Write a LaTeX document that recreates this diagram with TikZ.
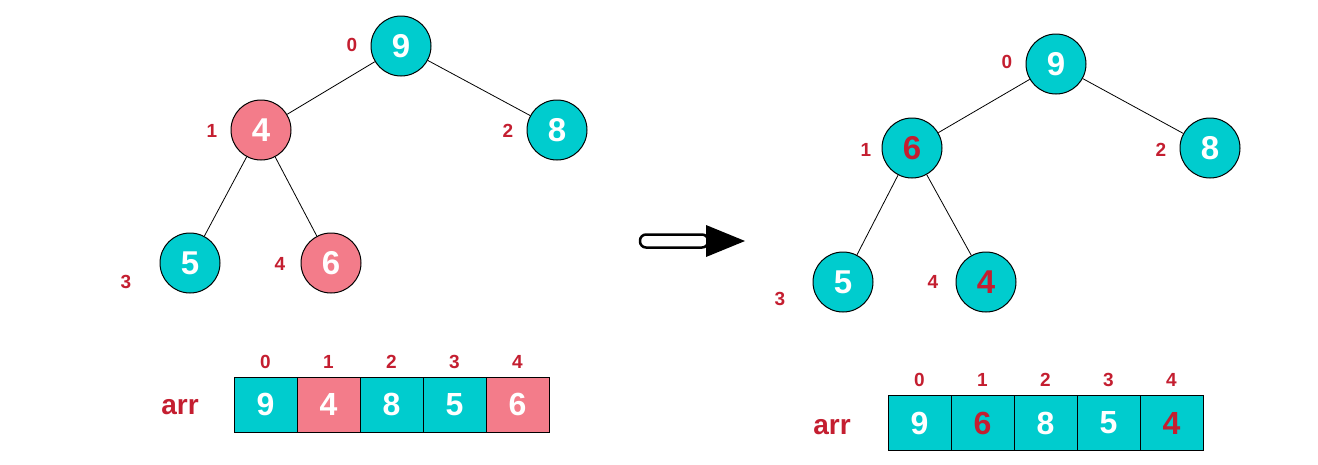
\documentclass[tikz,border=0pt]{standalone}
\usepackage{fontspec}
\setmainfont{Liberation Sans}
\usetikzlibrary{calc}
\definecolor{teal1}{RGB}{0,204,206}
\definecolor{pink1}{RGB}{243,124,138}
\definecolor{red1}{RGB}{196,30,48}
\tikzset{
  hnode/.style={circle,draw=black,line width=1pt,minimum size=60pt,inner sep=0pt,fill=teal1,text=white,font=\fontsize{33}{33}\selectfont\bfseries},
  hot/.style={fill=pink1},
  redtxt/.style={text=red1},
  idx/.style={text=red1,font=\fontsize{19}{19}\selectfont\bfseries,inner sep=0pt},
  cell/.style={draw=black,line width=1pt,minimum width=63pt,minimum height=55pt,inner sep=0pt,fill=teal1,text=white,font=\fontsize{32}{32}\selectfont\bfseries},
  arrlbl/.style={text=red1,font=\fontsize{28}{28}\selectfont\bfseries,inner sep=0pt},
  edge/.style={line width=0.8pt,draw=black}
}
\begin{document}
\begin{tikzpicture}[x=1pt,y=-1pt]
\useasboundingbox (0,0) rectangle (1318,464);
% left tree
\node[hnode] (a0) at (401,46) {9};
\node[hnode,hot] (a1) at (261,130) {4};
\node[hnode] (a2) at (557,130) {8};
\node[hnode] (a3) at (190,263) {5};
\node[hnode,hot] (a4) at (331,263) {6};
\draw[edge] (a0) -- (a1); \draw[edge] (a0) -- (a2);
\draw[edge] (a1) -- (a3); \draw[edge] (a1) -- (a4);
\node[idx] (la0) at (352,45) {0};
\node[idx] (la1) at (212,131) {1};
\node[idx] (la2) at (508,131) {2};
\node[idx] (la3) at (126,282) {3};
\node[idx] (la4) at (280,264) {4};
% right tree
\node[hnode] (b0) at (1056,64) {9};
\node[hnode,redtxt] (b1) at (912,148) {6};
\node[hnode] (b2) at (1210,148) {8};
\node[hnode] (b3) at (843,282) {5};
\node[hnode,redtxt] (b4) at (986,282) {4};
\draw[edge] (b0) -- (b1); \draw[edge] (b0) -- (b2);
\draw[edge] (b1) -- (b3); \draw[edge] (b1) -- (b4);
\node[idx] (lb0) at (1007,62) {0};
\node[idx] (lb1) at (866,150) {1};
\node[idx] (lb2) at (1161,150) {2};
\node[idx] (lb3) at (780,299) {3};
\node[idx] (lb4) at (933,282) {4};
% arrow
\coordinate (t) at (745,241);
\draw[line width=2.5pt,fill=white,rounded corners=6pt] (640,234.5) -- (708,234.5) -- (708,247.5) -- (640,247.5) -- cycle;
\fill[black] (706,225) -- (t) -- (706,257) -- cycle;
% left array
\node[arrlbl] (arrA) at (180,407) {arr};
\foreach \v/\c/\i in {9/teal1/0,4/pink1/1,8/teal1/2,5/teal1/3,6/pink1/4}{
  \node[cell,fill=\c] (ca\i) at ({265.5+63*\i},404.5) {\v};
  \node[idx] (ia\i) at ({265.5+63*\i},362) {\i};
}
% right array
\node[arrlbl] (arrB) at (832,427) {arr};
\foreach \v/\t/\i in {9/white/0,6/red1/1,8/white/2,5/white/3,4/red1/4}{
  \node[cell,text=\t] (cb\i) at ({919.5+63*\i},423) {\v};
  \node[idx] (ib\i) at ({919.5+63*\i},380) {\i};
}
\end{tikzpicture}
\end{document}
